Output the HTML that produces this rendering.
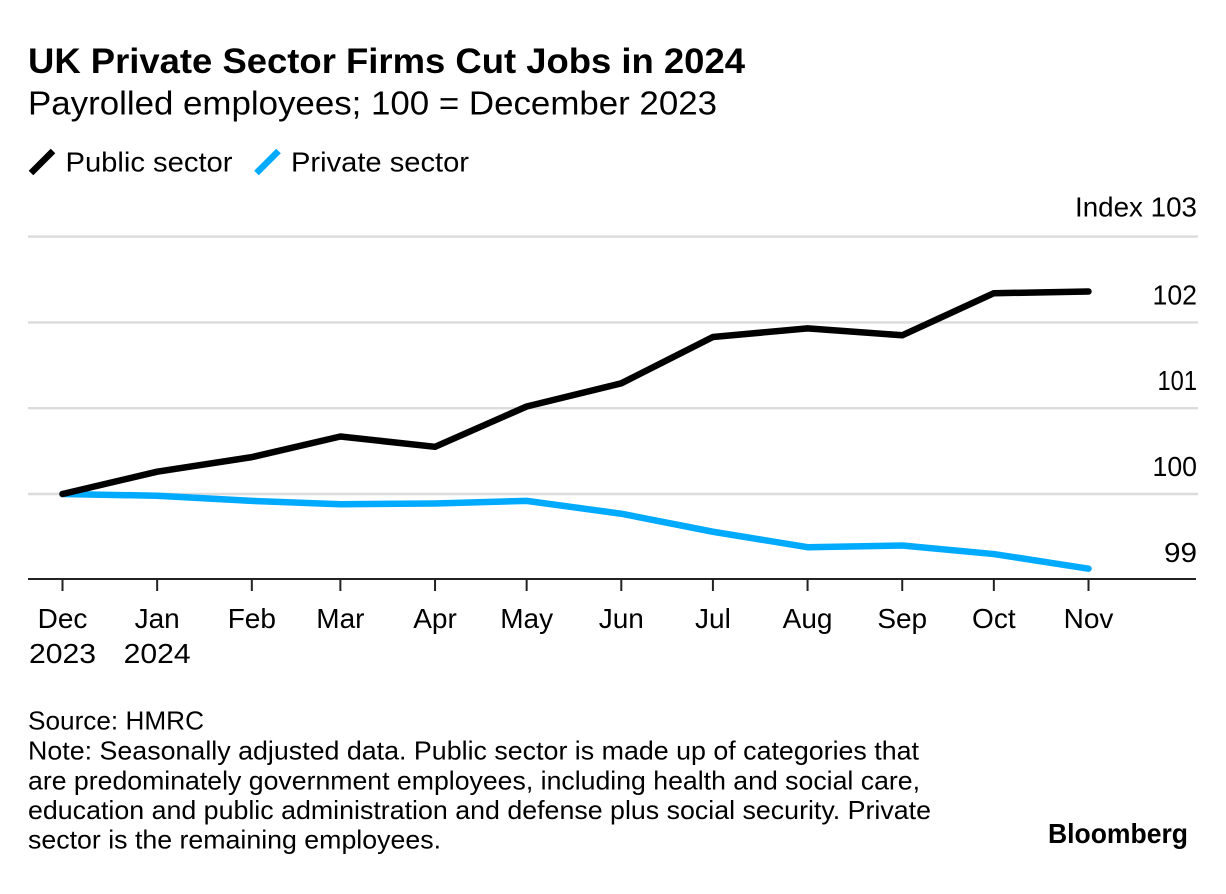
<!DOCTYPE html>
<html lang="en">
<head>
<meta charset="utf-8">
<title>UK Private Sector Firms Cut Jobs in 2024</title>
<style>
  html, body { margin: 0; padding: 0; background: #fff; }
  svg { display: block; font-family: "Liberation Sans", Arial, sans-serif; fill: #000; }
  .tick { font-size: 28px; }
  .foot { font-size: 26px; }
</style>
</head>
<body>
<svg id="chart" width="1226" height="894" viewBox="0 0 1226 894" xmlns="http://www.w3.org/2000/svg">
  <rect x="0" y="0" width="1226" height="894" fill="#fff"/>
  <text x="28" y="73" font-size="35" font-weight="700" textLength="717" lengthAdjust="spacingAndGlyphs">UK Private Sector Firms Cut Jobs in 2024</text>
  <text x="28" y="114.5" font-size="33" textLength="689" lengthAdjust="spacingAndGlyphs">Payrolled employees; 100 = December 2023</text>

  <line x1="31" y1="173" x2="53" y2="151" stroke="#000" stroke-width="6.5"/>
  <text x="65.5" y="171.5" font-size="28" textLength="167" lengthAdjust="spacingAndGlyphs">Public sector</text>
  <line x1="256.5" y1="173" x2="278.5" y2="151" stroke="#00aaff" stroke-width="6.5"/>
  <text x="291" y="171.5" font-size="28" textLength="178" lengthAdjust="spacingAndGlyphs">Private sector</text>

  <g id="grid"></g>
  <g id="y-labels"></g>
  <g id="x-axis"></g>
  <g id="series"></g>

  <g class="foot">
    <text x="28" y="729.5" textLength="176" lengthAdjust="spacingAndGlyphs">Source: HMRC</text>
    <text x="28" y="759.5" textLength="891" lengthAdjust="spacingAndGlyphs">Note: Seasonally adjusted data. Public sector is made up of categories that</text>
    <text x="28" y="789.5" textLength="892" lengthAdjust="spacingAndGlyphs">are predominately government employees, including health and social care,</text>
    <text x="28" y="819" textLength="903" lengthAdjust="spacingAndGlyphs">education and public administration and defense plus social security. Private</text>
    <text x="28" y="848.5" textLength="413" lengthAdjust="spacingAndGlyphs">sector is the remaining employees.</text>
  </g>
  <text x="1048" y="843" font-size="28" font-weight="700" textLength="140" lengthAdjust="spacingAndGlyphs">Bloomberg</text>
</svg>
<script>
const dates = ['2023-12-01','2024-01-01','2024-02-01','2024-03-01','2024-04-01','2024-05-01','2024-06-01','2024-07-01','2024-08-01','2024-09-01','2024-10-01','2024-11-01'];
const monthLabels = ['Dec','Jan','Feb','Mar','Apr','May','Jun','Jul','Aug','Sep','Oct','Nov'];
const yearLabels = ['2023','2024','','','','','','','','','',''];
const publicSector = [100.0,100.26,100.43,100.67,100.55,101.02,101.29,101.83,101.93,101.85,102.34,102.36];
const privateSector = [100.0,99.98,99.92,99.88,99.89,99.92,99.77,99.56,99.38,99.40,99.30,99.13];
const gridValues = [103,102,101,100];
const yTickValues = [102,101,100,99];

const NS = 'http://www.w3.org/2000/svg';
const t0 = Date.parse(dates[0]);
const t1 = Date.parse(dates[dates.length - 1]);
function xScale(d) { return 62.5 + (Date.parse(d) - t0) / (t1 - t0) * (1088.5 - 62.5); }
function yScale(v) { return 494 - (v - 100) * 85.8; }

function make(tag, attrs, parent, text) {
  const el = document.createElementNS(NS, tag);
  for (const k in attrs) el.setAttribute(k, attrs[k]);
  if (text !== undefined) el.textContent = text;
  parent.appendChild(el);
  return el;
}

// Horizontal fit of a label: the narrow "1" differs from the fallback font's tabular digits.
function digitWidth(label) {
  let w = 0;
  for (const c of label) w += (c === '1') ? 11.5 : 16.5;
  return w;
}

const grid = document.getElementById('grid');
gridValues.forEach(function (v) {
  const el = make('line', { x1: 28, x2: 1198, y1: yScale(v), y2: yScale(v), stroke: '#dcdcdc', 'stroke-width': 2.4 }, grid);
  
  
});

const yLabels = document.getElementById('y-labels');
yTickValues.forEach(function (v) {
  const s = String(v);
  const el = make('text', { x: 1197, y: yScale(v) - 18, 'text-anchor': 'end', class: 'tick', textLength: digitWidth(s), lengthAdjust: 'spacingAndGlyphs' }, yLabels, s);
  
  
});
const yTop = make('text', { x: 1197, y: yScale(103) - 20, 'text-anchor': 'end', class: 'tick', textLength: 122, lengthAdjust: 'spacingAndGlyphs' }, yLabels, 'Index 103');



const xAxis = document.getElementById('x-axis');
const axisY = 579;
const axisLine = make('line', { x1: 28, x2: 1196, y1: axisY, y2: axisY, stroke: '#222', 'stroke-width': 2 }, xAxis);


dates.forEach(function (d, i) {
  const x = xScale(d);
  const tick = make('line', { x1: x, x2: x, y1: axisY, y2: axisY + 12, stroke: '#222', 'stroke-width': 2 }, xAxis);
  
  
  const label = make('text', { x: x, y: 628, 'text-anchor': 'middle', class: 'tick' }, xAxis, monthLabels[i]);
  
  
  if (yearLabels[i]) {
    const year = make('text', { x: x, y: 663, 'text-anchor': 'middle', class: 'tick', textLength: 67, lengthAdjust: 'spacingAndGlyphs' }, xAxis, yearLabels[i]);
    
    
  }
});

function linePath(values) {
  return values.map(function (v, i) {
    return (i ? 'L' : 'M') + xScale(dates[i]).toFixed(2) + ' ' + yScale(v).toFixed(2);
  }).join(' ');
}
const series = document.getElementById('series');
const privateLine = make('path', { d: linePath(privateSector), fill: 'none', stroke: '#00aaff', 'stroke-width': 6.5, 'stroke-linecap': 'round', 'stroke-linejoin': 'round' }, series);


const publicLine = make('path', { d: linePath(publicSector), fill: 'none', stroke: '#000', 'stroke-width': 6.5, 'stroke-linecap': 'round', 'stroke-linejoin': 'round' }, series);


</script>
</body>
</html>
